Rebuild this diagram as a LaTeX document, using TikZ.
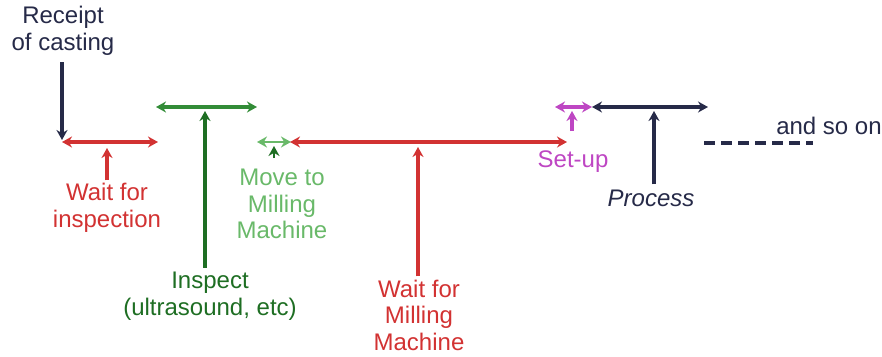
\documentclass[tikz,border=0pt]{standalone}
\usepackage{fontspec}
\setmainfont{Liberation Sans}
\usetikzlibrary{arrows.meta,calc}
\definecolor{navy}{RGB}{38,42,72}
\definecolor{myred}{RGB}{210,50,50}
\definecolor{dgreen}{RGB}{30,110,35}
\definecolor{mgreen}{RGB}{50,140,55}
\definecolor{lgreen}{RGB}{105,185,105}
\definecolor{magen}{RGB}{190,70,195}
\begin{document}
\begin{tikzpicture}[x=1pt,y=-1pt,
  lbl/.style={align=center,font=\fontsize{24}{26.5}\selectfont,inner sep=0pt},
  tip/.tip={Stealth[length=10pt,width=11pt]},
  arr/.style={line width=3.6pt,-tip},
  darr/.style={line width=3.6pt,tip-tip}]
\useasboundingbox (0,0) rectangle (882,356);
% labels
\node[lbl,text=navy] (receipt) at (63,31) {Receipt\\of casting};
\node[lbl,text=myred] (winsp) at (107,208) {Wait for\\inspection};
\node[lbl,text=dgreen] (insp) at (210,296) {Inspect\\(ultrasound, etc)};
\node[lbl,text=lgreen] (move) at (282,204) {Move to\\Milling\\Machine};
\node[lbl,text=myred] (wmill) at (419,315) {Wait for\\Milling\\Machine};
\node[lbl,text=magen] (setup) at (573,162) {Set-up};
\node[lbl,text=navy,font=\fontsize{24}{26.5}\selectfont\itshape] (proc) at (651,198) {Process};
\node[lbl,text=navy] (soon) at (829,126) {and so on};
% bar coordinates
\coordinate (w1l) at (62,142); \coordinate (w1r) at (158,142);
\coordinate (insl) at (156,107); \coordinate (insr) at (257,107);
\coordinate (mvl) at (257,142); \coordinate (mvr) at (291,142);
\coordinate (w2l) at (290,142); \coordinate (w2r) at (567,142);
\coordinate (sul) at (555,107); \coordinate (sur) at (592,107);
\coordinate (prl) at (592,107); \coordinate (prr) at (708,107);
\coordinate (dsl) at (704,143); \coordinate (dsr) at (813,143);
% bars
\draw[darr,myred] (w1l) -- (w1r);
\draw[darr,mgreen] (insl) -- (insr);
\draw[darr,lgreen,line width=2.6pt] (mvl) -- (mvr);
\draw[darr,myred] (w2l) -- (w2r);
\draw[darr,magen] (sul) -- (sur);
\draw[darr,navy] (prl) -- (prr);
\draw[navy,line width=4pt,dash pattern=on 11pt off 6pt] (dsl) -- (dsr);
% vertical arrows
\coordinate (r1) at (62,62);
\draw[arr,navy] (r1) -- ($(w1l)+(0,-2)$);
\draw[arr,myred] (winsp.north) ++(0,-3) -- (107,148);
\draw[arr,dgreen] (insp.north) ++(-5,-4) -- (205,111);
\coordinate (m1) at (274,158);
\draw[arr,dgreen,line width=2.2pt] (m1) -- (274,146);
\draw[arr,myred] (wmill.north) ++(-1,-3) -- (418,147);
\coordinate (s1) at (572,131);
\draw[arr,magen] (s1) -- (572,111);
\draw[arr,navy] (proc.north) ++(3,-5) -- (654,111);
\end{tikzpicture}
\end{document}
